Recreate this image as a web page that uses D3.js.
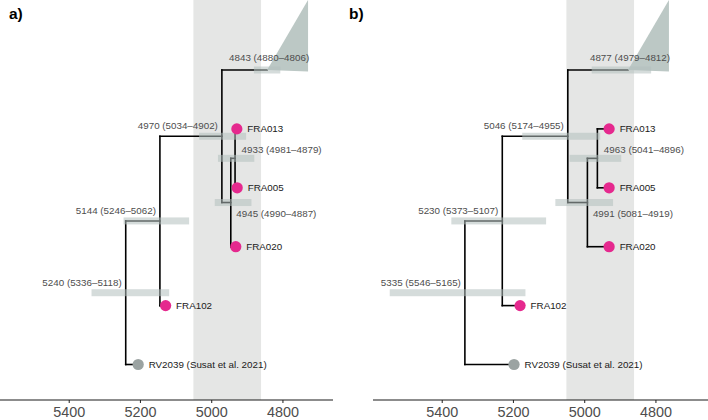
<!DOCTYPE html>
<html>
<head>
<meta charset="utf-8">
<script src="https://cdn.jsdelivr.net/npm/d3@7"></script>
<style>
  html, body { margin: 0; padding: 0; background: #fff; }
  svg { display: block; font-family: "Liberation Sans", Arial, Helvetica, sans-serif; }
</style>
</head>
<body>
<svg id="chart" width="708" height="420"></svg>
<script>
// ---------------- DATA ----------------
const panelLetters = ["a)", "b)"];
const xTicks = [5400, 5200, 5000, 4800];
const shadeRange = [5050, 4860];

// tips (top to bottom, below the collapsed clade)
const tipLabels = ["FRA013", "FRA005", "FRA020", "FRA102", "RV2039 (Susat et al. 2021)"];
const tipGroups = ["FRA", "FRA", "FRA", "FRA", "ref"];
const tipAgeA = [4928, 4927, 4931, 5128, 5205];
const tipAgeB = [4930, 4930, 4930, 5180, 5197];

// collapsed clade: youngest extent
const cladeEndA = 4728;
const cladeEndB = 4762;

// internal nodes: root, n2, n3, n4, n5, clade node
const nodeMeanA = [5240, 5144, 4970, 4945, 4933, 4843];
const nodeLowA  = [5336, 5246, 5034, 4990, 4981, 4880];
const nodeHighA = [5118, 5062, 4902, 4887, 4879, 4806];

const nodeMeanB = [5335, 5230, 5046, 4991, 4963, 4877];
const nodeLowB  = [5546, 5373, 5174, 5081, 5041, 4979];
const nodeHighB = [5165, 5107, 4955, 4919, 4896, 4812];

// ---------------- LAYOUT ----------------
const W = 708, H = 420;
const axisY = 400;
const svg = d3.select("#chart");

const colors = {
  FRA: "#E5298E",
  ref: "#9BA3A2",
  band: "#E5E6E5",
  hpd: "#B3C0BD",
  clade: "#BCC8C5",
  nodeText: "#4D4D4D",
  tipText: "#1A1A1A",
  axisText: "#4D4D4D"
};

// topology: children refs {t: tip index} or {n: node index}, clade = node 5 (collapsed)
const children = {
  0: [{n: 1}, {t: 4}],
  1: [{n: 2}, {t: 3}],
  2: [{n: 5}, {n: 3}],
  3: [{n: 4}, {t: 2}],
  4: [{t: 0}, {t: 1}]
};
// label placement per node (style)
const labelPlace = ["aboveLeft", "aboveLeft", "aboveLeft", "belowRight", "aboveRight", "aboveCenter"];

const panels = [
  {letter: panelLetters[0], x0: 0, x1: 333, axisEnd: 333, tipAge: tipAgeA, cladeEnd: cladeEndA,
   mean: nodeMeanA, low: nodeLowA, high: nodeHighA, lx: 9},
  {letter: panelLetters[1], x0: 373, x1: 706, axisEnd: 708, tipAge: tipAgeB, cladeEnd: cladeEndB,
   mean: nodeMeanB, low: nodeLowB, high: nodeHighB, lx: 349}
];

// y positions: index 0 = collapsed clade, 1..5 = tips
const y = d3.scaleLinear().domain([0, 5]).range([70, 364.5]);

panels.forEach(p => {
  const g = svg.append("g");
  const x = d3.scaleLinear().domain([5593, 4658]).range([p.x0, p.x1]);

  // shaded band
  g.append("rect")
    .attr("x", x(shadeRange[0]))
    .attr("y", 0)
    .attr("width", x(shadeRange[1]) - x(shadeRange[0]))
    .attr("height", axisY)
    .attr("fill", colors.band);

  // compute node y (mean of children)
  const nodeY = {};
  nodeY[5] = y(0);
  const tipY = i => y(i + 1);
  function yOf(c) { return c.t !== undefined ? tipY(c.t) : getNodeY(c.n); }
  function getNodeY(n) {
    if (nodeY[n] !== undefined) return nodeY[n];
    const ys = children[n].map(yOf);
    nodeY[n] = d3.mean(ys);
    return nodeY[n];
  }
  for (let n = 0; n < 5; n++) getNodeY(n);
  const xOfChild = c => c.t !== undefined ? x(p.tipAge[c.t]) : x(p.mean[c.n]);

  // branches
  const br = g.append("g").attr("fill", "none").attr("stroke", "#000")
    .attr("stroke-width", 1.6).attr("stroke-linecap", "square");
  Object.keys(children).forEach(k => {
    const n = +k;
    const px = x(p.mean[n]);
    const ys = children[n].map(yOf);
    br.append("line").attr("x1", px).attr("x2", px)
      .attr("y1", d3.min(ys)).attr("y2", d3.max(ys));
    children[n].forEach(c => {
      br.append("line").attr("x1", px).attr("x2", xOfChild(c))
        .attr("y1", yOf(c)).attr("y2", yOf(c));
    });
  });

  // collapsed clade triangle
  const cx = x(p.mean[5]), cy = nodeY[5];
  g.append("path")
    .attr("d", d3.line()([[cx, cy], [x(p.cladeEnd), y(-1.19)], [x(p.cladeEnd), cy + 1.5]]) + "Z")
    .attr("fill", colors.clade);

  // HPD bars
  p.mean.forEach((m, i) => {
    g.append("rect")
      .attr("x", x(p.low[i]))
      .attr("y", nodeY[i] - 3.5)
      .attr("width", x(p.high[i]) - x(p.low[i]))
      .attr("height", 7)
      .attr("fill", colors.hpd)
      .attr("fill-opacity", 0.55);
  });

  // node labels
  p.mean.forEach((m, i) => {
    const nx = x(m), ny = nodeY[i];
    let tx, ty, anchor;
    switch (labelPlace[i]) {
      case "aboveLeft": tx = nx - 4; ty = ny - 7; anchor = "end"; break;
      case "aboveRight": tx = nx + 6.5; ty = ny - 5; anchor = "start"; break;
      case "belowRight": tx = nx + 5.5; ty = ny + 14; anchor = "start"; break;
      default: tx = nx + 2; ty = ny - 9; anchor = "middle";
    }
    g.append("text")
      .attr("x", tx).attr("y", ty)
      .attr("text-anchor", anchor)
      .attr("font-size", 9.8)
      .attr("fill", colors.nodeText)
      .text(`${m} (${p.low[i]}\u2013${p.high[i]})`);
  });

  // tips
  tipLabels.forEach((lab, i) => {
    const tx = x(p.tipAge[i]), ty = tipY(i);
    g.append("circle").attr("cx", tx).attr("cy", ty).attr("r", 5.6)
      .attr("fill", colors[tipGroups[i]]);
    g.append("text")
      .attr("x", tx + 10.5).attr("y", ty)
      .attr("dy", "0.36em")
      .attr("font-size", 9.8)
      .attr("fill", colors.tipText)
      .text(lab);
  });

  // axis
  const ax = g.append("g").attr("transform", `translate(0,${axisY})`)
    .call(d3.axisBottom(x).tickValues(xTicks).tickSize(3).tickSizeOuter(0).tickPadding(4).tickFormat(d3.format("d")));
  ax.select(".domain").remove();
  ax.append("line").attr("x1", p.x0).attr("x2", p.axisEnd).attr("y1", 0).attr("y2", 0)
    .attr("stroke", "#1a1a1a").attr("stroke-width", 1.1);
  ax.selectAll(".tick line").attr("stroke", "#333").attr("stroke-width", 1.1);
  ax.selectAll(".tick text").attr("font-size", 14.4).attr("fill", colors.axisText)
    .attr("font-family", "Liberation Sans, Arial, sans-serif");

  // panel letter
  svg.append("text").attr("x", p.lx).attr("y", 19)
    .attr("font-size", 15.5).attr("font-weight", "bold").attr("fill", "#000")
    .text(p.letter);
});
</script>
</body>
</html>
